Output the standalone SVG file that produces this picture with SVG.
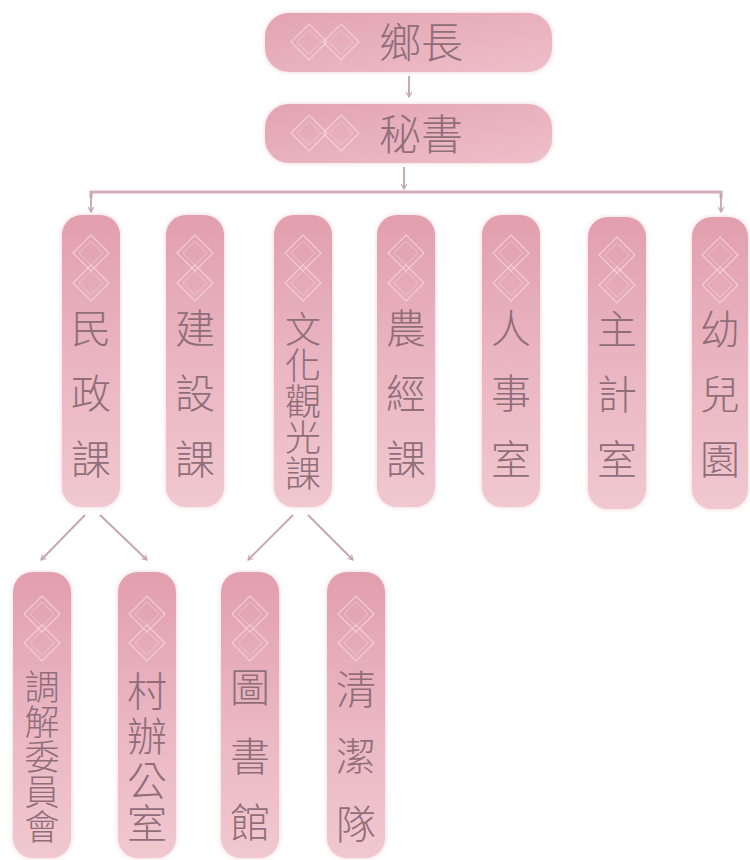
<svg xmlns="http://www.w3.org/2000/svg" width="750" height="860" viewBox="0 0 750 860">
<defs>
<linearGradient id="gv" x1="0" y1="0" x2="0" y2="1">
<stop offset="0" stop-color="#e29fae"/>
<stop offset="0.5" stop-color="#eab5c1"/>
<stop offset="1" stop-color="#f1c8d0"/>
</linearGradient>
<linearGradient id="gh" x1="0" y1="0" x2="1" y2="1">
<stop offset="0" stop-color="#e3a3b1"/>
<stop offset="1" stop-color="#eebfca"/>
</linearGradient>
<filter id="glow" x="-30%" y="-30%" width="160%" height="160%">
<feFlood flood-color="#e4a3b2" flood-opacity="0.5"/>
<feComposite operator="in" in2="SourceAlpha"/>
<feGaussianBlur stdDeviation="2.5"/>
<feMerge><feMergeNode/><feMergeNode in="SourceGraphic"/></feMerge>
</filter>
<marker id="ah" viewBox="0 0 10 10" refX="8" refY="5" markerWidth="7" markerHeight="7" orient="auto" markerUnits="userSpaceOnUse">
<path d="M1,1 L8,5 L1,9" fill="none" stroke="#c6a4ad" stroke-width="1.6"/>
</marker>
<g id="dia">
<path d="M0,-18 L18,0 L0,18 L-18,0 Z" fill="none" stroke="#f7dfe4" stroke-width="1.1" opacity="0.7"/>
<path d="M0,-12 L12,0 L0,12 L-12,0 Z" fill="none" stroke="#f7dfe4" stroke-width="0.9" opacity="0.5"/>
</g>
</defs>
<style>
.box{fill:url(#gv);filter:url(#glow)}
.hbox{fill:url(#gh);filter:url(#glow)}
.t{font-family:"Noto Sans CJK TC","Noto Sans CJK SC",sans-serif;font-weight:300;fill:#8f6e7a;text-anchor:middle}
.ln{fill:none;stroke:#c6a4ad;stroke-width:1.8}
.hl{fill:none;stroke:#d6acb6;stroke-width:3}
</style>
<rect width="750" height="860" fill="#ffffff"/>

<g id="connectors">
<line class="ln" x1="409" y1="76" x2="409" y2="97" marker-end="url(#ah)"/>
<line class="ln" x1="404" y1="167" x2="404" y2="189" marker-end="url(#ah)"/>
<polyline class="hl" points="91,198 91,192 721,192 721,198"/>
<line class="ln" x1="91" y1="193" x2="91" y2="212" marker-end="url(#ah)"/>
<line class="ln" x1="721" y1="193" x2="721" y2="212" marker-end="url(#ah)"/>
<line class="ln" x1="85" y1="515" x2="41" y2="560" marker-end="url(#ah)"/>
<line class="ln" x1="100" y1="515" x2="147" y2="560" marker-end="url(#ah)"/>
<line class="ln" x1="293" y1="515" x2="248" y2="560" marker-end="url(#ah)"/>
<line class="ln" x1="308" y1="515" x2="353" y2="560" marker-end="url(#ah)"/>
</g>

<g id="n-xiangzhang">
<rect class="hbox" x="265" y="13" width="287" height="59" rx="24"/>
<use href="#dia" x="309" y="42"/><use href="#dia" x="341" y="42"/>
<text class="t" x="421" y="58" font-size="42">鄉長</text>
</g>
<g id="n-mishu">
<rect class="hbox" x="265" y="104" width="287" height="59" rx="24"/>
<use href="#dia" x="309" y="133"/><use href="#dia" x="341" y="133"/>
<text class="t" x="421" y="150" font-size="42">秘書</text>
</g>

<g id="n-minzheng">
<rect class="box" x="62" y="215" width="58" height="292" rx="20"/>
<use href="#dia" x="91" y="253"/><use href="#dia" x="91" y="283"/>
<text class="t" font-size="40"><tspan x="91" y="343">民</tspan><tspan x="91" y="408">政</tspan><tspan x="91" y="474">課</tspan></text>
</g>
<g id="n-jianshe">
<rect class="box" x="166" y="215" width="58" height="292" rx="20"/>
<use href="#dia" x="195" y="253"/><use href="#dia" x="195" y="283"/>
<text class="t" font-size="40"><tspan x="195" y="343">建</tspan><tspan x="195" y="408">設</tspan><tspan x="195" y="474">課</tspan></text>
</g>
<g id="n-wenhua">
<rect class="box" x="274" y="215" width="58" height="292" rx="20"/>
<use href="#dia" x="303" y="253"/><use href="#dia" x="303" y="283"/>
<text class="t" font-size="36"><tspan x="303" y="343">文</tspan><tspan x="303" y="379">化</tspan><tspan x="303" y="415">觀</tspan><tspan x="303" y="451">光</tspan><tspan x="303" y="487">課</tspan></text>
</g>
<g id="n-nongjing">
<rect class="box" x="377" y="215" width="58" height="292" rx="20"/>
<use href="#dia" x="406" y="253"/><use href="#dia" x="406" y="283"/>
<text class="t" font-size="40"><tspan x="406" y="343">農</tspan><tspan x="406" y="408">經</tspan><tspan x="406" y="474">課</tspan></text>
</g>
<g id="n-renshi">
<rect class="box" x="482" y="215" width="58" height="292" rx="20"/>
<use href="#dia" x="511" y="253"/><use href="#dia" x="511" y="283"/>
<text class="t" font-size="40"><tspan x="511" y="343">人</tspan><tspan x="511" y="408">事</tspan><tspan x="511" y="474">室</tspan></text>
</g>
<g id="n-zhuji">
<rect class="box" x="588" y="217" width="58" height="292" rx="20"/>
<use href="#dia" x="617" y="255"/><use href="#dia" x="617" y="285"/>
<text class="t" font-size="40"><tspan x="617" y="344">主</tspan><tspan x="617" y="409">計</tspan><tspan x="617" y="474">室</tspan></text>
</g>
<g id="n-youer">
<rect class="box" x="692" y="217" width="56" height="292" rx="20"/>
<use href="#dia" x="720" y="255"/><use href="#dia" x="720" y="285"/>
<text class="t" font-size="40"><tspan x="720" y="344">幼</tspan><tspan x="720" y="409">兒</tspan><tspan x="720" y="474">園</tspan></text>
</g>

<g id="n-tiaojie">
<rect class="box" x="13" y="572" width="58" height="286" rx="20"/>
<use href="#dia" x="42" y="614"/><use href="#dia" x="42" y="643"/>
<text class="t" font-size="35"><tspan x="42" y="700">調</tspan><tspan x="42" y="735">解</tspan><tspan x="42" y="770">委</tspan><tspan x="42" y="805">員</tspan><tspan x="42" y="840">會</tspan></text>
</g>
<g id="n-cunban">
<rect class="box" x="118" y="572" width="58" height="286" rx="20"/>
<use href="#dia" x="147" y="614"/><use href="#dia" x="147" y="643"/>
<text class="t" font-size="40"><tspan x="147" y="706">村</tspan><tspan x="147" y="751">辦</tspan><tspan x="147" y="796">公</tspan><tspan x="147" y="838">室</tspan></text>
</g>
<g id="n-tushu">
<rect class="box" x="221" y="572" width="58" height="286" rx="20"/>
<use href="#dia" x="250" y="614"/><use href="#dia" x="250" y="643"/>
<text class="t" font-size="40"><tspan x="250" y="702">圖</tspan><tspan x="250" y="771">書</tspan><tspan x="250" y="837">館</tspan></text>
</g>
<g id="n-qingjie">
<rect class="box" x="327" y="572" width="58" height="286" rx="20"/>
<use href="#dia" x="356" y="614"/><use href="#dia" x="356" y="643"/>
<text class="t" font-size="40"><tspan x="356" y="704">清</tspan><tspan x="356" y="771">潔</tspan><tspan x="356" y="839">隊</tspan></text>
</g>
</svg>
